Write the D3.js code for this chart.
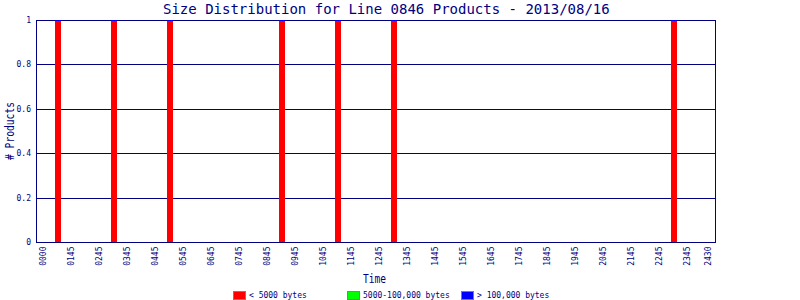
<!DOCTYPE html>
<html>
<head>
<meta charset="utf-8">
<script src="https://cdn.jsdelivr.net/npm/d3@7"></script>
<style>
  body { margin: 0; background: #fff; }
  text { font-family: "DejaVu Sans Mono", monospace; fill: #000080; }
</style>
</head>
<body>
<div id="chart"></div>
<script>
// product counts per time bin (minutes after 00:00)
var binMinutes = [77, 197, 317, 557, 677, 797, 1397];
var smallCounts = [1, 1, 1, 1, 1, 1, 1];
var mediumCounts = [0, 0, 0, 0, 0, 0, 0];
var largeCounts = [0, 0, 0, 0, 0, 0, 0];

var seriesKeys = ["small", "medium", "large"];
var seriesNames = ["< 5000 bytes", "5000-100,000 bytes", "> 100,000 bytes"];
var seriesColors = ["#ff0000", "#00ff00", "#0000ff"];

var tickMinutes = [45, 105, 165, 225, 285, 345, 405, 465, 525, 585, 645, 705, 765,
  825, 885, 945, 1005, 1065, 1125, 1185, 1245, 1305, 1365, 1425, 1470];
var tickLabels = ["0000", "0145", "0245", "0345", "0445", "0545", "0645", "0745", "0845",
  "0945", "1045", "1145", "1245", "1345", "1445", "1545", "1645", "1745", "1845",
  "1945", "2045", "2145", "2245", "2345", "2430"];

var yTicks = [0, 0.2, 0.4, 0.6, 0.8, 1];
var yTickLabels = ["0", "0.2", "0.4", "0.6", "0.8", "1"];

(function() {
  var width = 800,
    height = 300;
  var left = 36, right = 715, top = 20, bottom = 242;
  var navy = "#000080";

  var svg = d3.select("#chart")
    .append("svg")
    .attr("width", width)
    .attr("height", height);

  var x = d3.scaleLinear().domain([30, 1485]).range([left, right]);
  var y = d3.scaleLinear().domain([0, 1]).range([bottom, top]);

  var rows = binMinutes.map(function(t, i) {
    return { t: t, small: smallCounts[i], medium: mediumCounts[i], large: largeCounts[i] };
  });
  var stacked = d3.stack().keys(seriesKeys)(rows);

  // title
  svg.append("text")
    .attr("x", 163)
    .attr("y", 13.5)
    .style("font-size", "14px")
    .text("Size Distribution for Line 0846 Products - 2013/08/16");

  // grid
  svg.append("g")
    .selectAll("line")
    .data(yTicks.filter(function(d) { return d > 0 && d < 1; }))
    .enter().append("line")
    .attr("x1", left)
    .attr("x2", right)
    .attr("y1", function(d) { return Math.round(y(d)) + 0.5; })
    .attr("y2", function(d) { return Math.round(y(d)) + 0.5; })
    .attr("stroke", navy)
    .attr("stroke-width", 1);

  // frame
  svg.append("rect")
    .attr("x", left + 0.5)
    .attr("y", top + 0.5)
    .attr("width", right - left)
    .attr("height", bottom - top)
    .attr("fill", "none")
    .attr("stroke", navy)
    .attr("stroke-width", 1);

  // bars
  svg.append("g")
    .selectAll("g")
    .data(stacked)
    .enter().append("g")
    .attr("fill", function(d, i) { return seriesColors[i]; })
    .attr("shape-rendering", "crispEdges")
    .selectAll("rect")
    .data(function(d) { return d; })
    .enter().append("rect")
    .attr("x", function(d) { return Math.round(x(d.data.t)) - 3; })
    .attr("width", 6)
    .attr("y", function(d) { return y(d[1]); })
    .attr("height", function(d) { return Math.max(1, y(d[0]) - y(d[1])); });

  // x axis
  var xAxis = d3.axisBottom(x)
    .tickValues(tickMinutes)
    .tickFormat(function(d, i) { return tickLabels[i]; })
    .tickSize(0);

  var gx = svg.append("g")
    .attr("transform", "translate(0," + bottom + ")")
    .call(xAxis);
  gx.select(".domain").remove();
  gx.selectAll("text")
    .attr("transform", "rotate(-90)")
    .attr("text-anchor", "end")
    .attr("x", -4.5)
    .attr("y", 0)
    .attr("dy", "0.36em")
    .style("font-size", "8px")
    .style("font-family", "DejaVu Sans Mono")
    .attr("fill", navy);

  // y axis
  var yAxis = d3.axisLeft(y)
    .tickValues(yTicks)
    .tickFormat(function(d, i) { return yTickLabels[i]; })
    .tickSize(0)
    .tickPadding(5);

  var gy = svg.append("g")
    .attr("transform", "translate(" + left + ",0)")
    .call(yAxis);
  gy.select(".domain").remove();
  gy.selectAll("text")
    .style("font-size", "8px")
    .style("font-family", "DejaVu Sans Mono")
    .attr("fill", navy);

  // axis titles
  svg.append("text")
    .attr("x", 374.5)
    .attr("y", 282.5)
    .attr("text-anchor", "middle")
    .attr("textLength", 23)
    .attr("lengthAdjust", "spacingAndGlyphs")
    .style("font-size", "12px")
    .text("Time");

  svg.append("text")
    .attr("transform", "translate(13.5," + ((top + bottom) / 2) + ") rotate(-90)")
    .attr("text-anchor", "middle")
    .attr("textLength", 58)
    .attr("lengthAdjust", "spacingAndGlyphs")
    .style("font-size", "12px")
    .text("# Products");

  // legend
  var legend = svg.append("g")
    .selectAll("g")
    .data(seriesNames)
    .enter().append("g")
    .attr("transform", function(d, i) { return "translate(" + (233 + i * 114) + ",291)"; });

  legend.append("rect")
    .attr("x", 0.5)
    .attr("y", 0.5)
    .attr("width", 12)
    .attr("height", 8)
    .attr("fill", function(d, i) { return seriesColors[i]; })
    .attr("stroke", "#808080")
    .attr("stroke-width", 1);

  legend.append("text")
    .attr("x", 16)
    .attr("y", 7)
    .style("font-size", "8px")
    .text(function(d) { return d; });
})();
</script>
</body>
</html>
